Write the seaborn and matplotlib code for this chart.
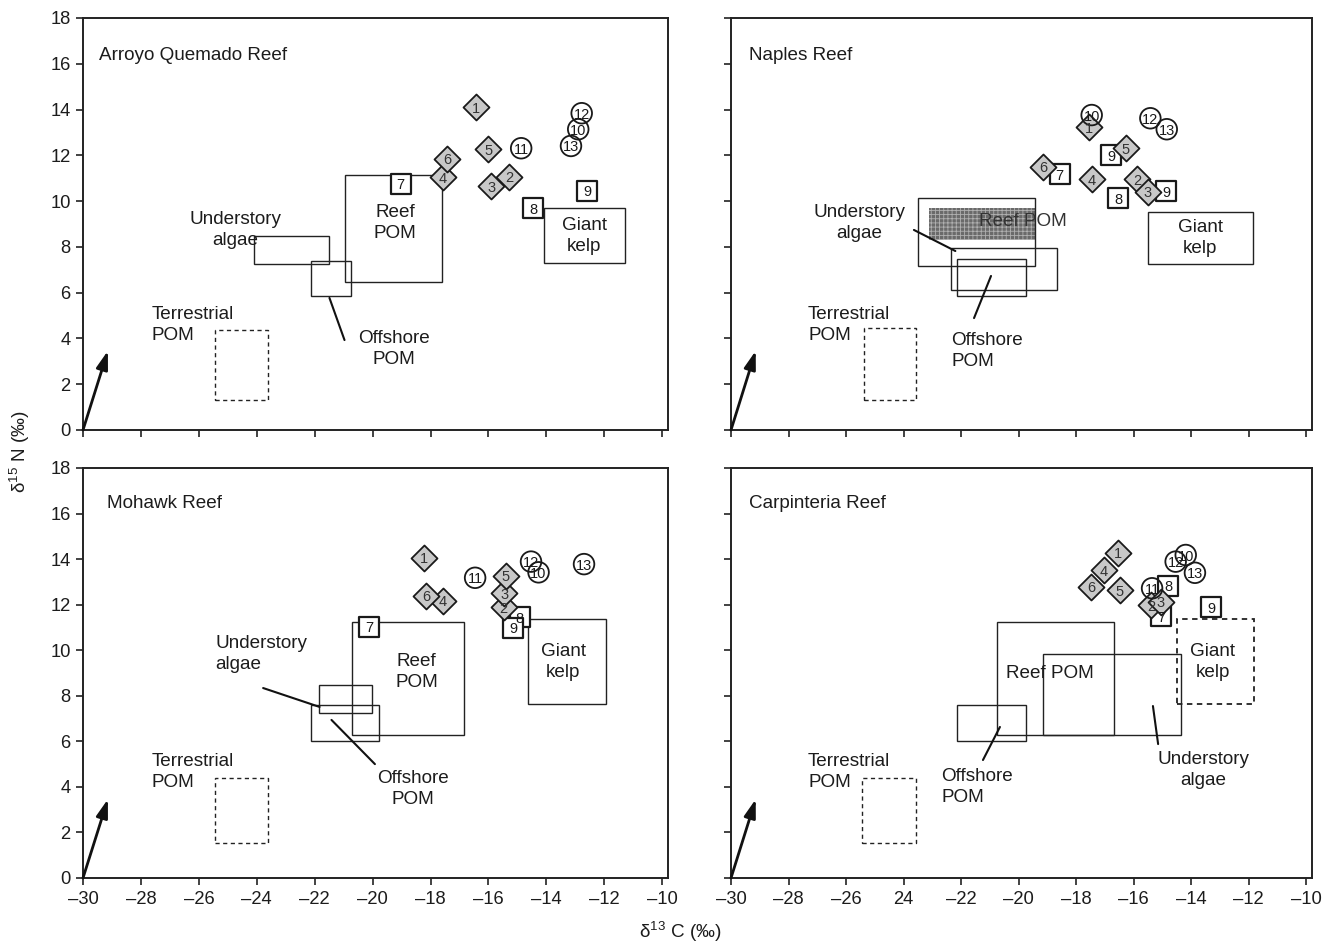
import matplotlib
matplotlib.use("Agg")
import matplotlib.pyplot as plt
from matplotlib.patches import Rectangle
import seaborn as sns
import pandas as pd

sns.set_style("ticks")
plt.rcParams["font.family"] = ["Liberation Sans", "DejaVu Sans"]
plt.rcParams["mathtext.fontset"] = "custom"
plt.rcParams["mathtext.rm"] = "Liberation Sans"
plt.rcParams["hatch.linewidth"] = 0.6

# ---------------- consumer isotope values (d13C, d15N) per reef ----------------
# Diamonds: taxa 1-6, circles: 10-13, squares: 7-9
aq_diamond_id = ["1", "2", "3", "4", "5", "6"]
aq_diamond_c = [-16.43, -15.29, -15.91, -17.57, -16.0, -17.43]
aq_diamond_n = [14.1, 11.07, 10.66, 11.04, 12.26, 11.84]
aq_circle_id = ["10", "11", "12", "13"]
aq_circle_c = [-12.9, -14.87, -12.78, -13.15]
aq_circle_n = [13.14, 12.31, 13.84, 12.41]
aq_square_id = ["7", "8", "9"]
aq_square_c = [-19.03, -14.46, -12.58]
aq_square_n = [10.75, 9.69, 10.46]

na_diamond_id = ["1", "2", "3", "4", "5", "6"]
na_diamond_c = [-17.57, -15.89, -15.51, -17.46, -16.28, -19.15]
na_diamond_n = [13.22, 10.95, 10.41, 10.95, 12.31, 11.5]
na_circle_id = ["10", "12", "13"]
na_circle_c = [-17.46, -15.42, -14.85]
na_circle_n = [13.76, 13.62, 13.14]
na_square_id = ["7", "8", "9", "9"]
na_square_c = [-18.57, -16.54, -16.79, -14.86]
na_square_n = [11.18, 10.12, 12.01, 10.44]

mo_diamond_id = ["1", "2", "3", "4", "5", "6"]
mo_diamond_c = [-18.22, -15.48, -15.46, -17.57, -15.4, -18.16]
mo_diamond_n = [14.06, 11.88, 12.5, 12.17, 13.27, 12.39]
mo_circle_id = ["10", "11", "12", "13"]
mo_circle_c = [-14.27, -16.46, -14.53, -12.7]
mo_circle_n = [13.42, 13.18, 13.89, 13.78]
mo_square_id = ["7", "8", "9"]
mo_square_c = [-20.12, -14.92, -15.14]
mo_square_n = [11.02, 11.44, 10.99]

ca_diamond_id = ["1", "2", "3", "4", "5", "6"]
ca_diamond_c = [-16.56, -15.4, -15.05, -17.03, -16.48, -17.49]
ca_diamond_n = [14.28, 11.98, 12.13, 13.52, 12.64, 12.79]
ca_circle_id = ["10", "11", "12", "13"]
ca_circle_c = [-14.19, -15.36, -14.54, -13.87]
ca_circle_n = [14.18, 12.72, 13.89, 13.4]
ca_square_id = ["7", "8", "9"]
ca_square_c = [-15.05, -14.79, -13.31]
ca_square_n = [11.5, 12.82, 11.88]

# ---------------- source ranges: (c_min, c_max, n_min, n_max) ----------------
aq_kelp = (-14.09, -11.28, 7.28, 9.71)
aq_reef_pom = (-20.97, -17.59, 6.47, 11.14)
aq_understory = (-24.09, -21.52, 7.25, 8.48)
aq_offshore = (-22.14, -20.74, 5.85, 7.38)
aq_terrestrial = (-25.45, -23.61, 1.31, 4.37)

na_kelp = (-15.5, -11.86, 7.25, 9.52)
na_reef_pom = (-23.49, -19.44, 7.16, 10.15)
na_reef_pom_core = (-23.13, -19.44, 8.3, 9.68)
na_understory = (-22.36, -18.68, 6.12, 7.94)
na_offshore = (-22.13, -19.75, 5.85, 7.46)
na_terrestrial = (-25.36, -23.57, 1.31, 4.46)

mo_kelp = (-14.63, -11.95, 7.64, 11.37)
mo_reef_pom = (-20.7, -16.84, 6.28, 11.24)
mo_understory = (-21.86, -20.02, 7.24, 8.47)
mo_offshore = (-22.14, -19.78, 6.01, 7.59)
mo_terrestrial = (-25.45, -23.61, 1.54, 4.39)

ca_kelp = (-14.48, -11.81, 7.64, 11.37)
ca_reef_pom = (-20.76, -16.67, 6.28, 11.24)
ca_understory = (-19.14, -14.36, 6.28, 9.83)
ca_offshore = (-22.13, -19.76, 6.01, 7.59)
ca_terrestrial = (-25.46, -23.57, 1.54, 4.39)

x_ticks = list(range(-30, -9, 2))
y_ticks = list(range(0, 19, 2))
x_ticklabels_left = ["\u201330", "\u201328", "\u201326", "\u201324", "\u201322", "\u201320",
                     "\u201318", "\u201316", "\u201314", "\u201312", "\u201310"]
x_ticklabels_right = ["\u201330", "\u201328", "\u201326", "24", "\u201322", "\u201320",
                      "\u201318", "\u201316", "\u201314", "\u201312", "\u201310"]

FS = 13.6
NUM_FS = 10.5
TXT = "#1c1c1c"


def points(ax, ids, cs, ns, kind):
    df = pd.DataFrame({"c": cs, "n": ns})
    if kind == "diamond":
        sns.scatterplot(data=df, x="c", y="n", marker="D", s=175, color="#c8c8c8",
                        edgecolor="#1a1a1a", linewidth=1.3, ax=ax, zorder=4)
        tc = "#333333"
    elif kind == "circle":
        sns.scatterplot(data=df, x="c", y="n", marker="o", s=220, color="black",
                        facecolor="none", edgecolor="#1a1a1a", linewidth=1.3, ax=ax, zorder=5)
        tc = "#1a1a1a"
    else:
        sns.scatterplot(data=df, x="c", y="n", marker="s", s=215, color="white",
                        edgecolor="#1a1a1a", linewidth=1.6, ax=ax, zorder=3)
        tc = "#1a1a1a"
    for i, c, n in zip(ids, cs, ns):
        ax.text(c, n, i, ha="center", va="center_baseline", fontsize=NUM_FS,
                color=tc, zorder=6)


def box(ax, r, dashed=False, lw=1.0):
    ax.add_patch(Rectangle((r[0], r[2]), r[1] - r[0], r[3] - r[2], fill=False,
                           edgecolor="#222222", linewidth=lw,
                           linestyle=(0, (3, 2.5)) if dashed else "-", zorder=2))


def label(ax, x, y, s, ha="center", **kw):
    ax.text(x, y, s, fontsize=FS, ha=ha, va="center", linespacing=1.25,
            color=kw.pop("color", TXT), **kw)


def leader(ax, p0, p1):
    ax.plot([p0[0], p1[0]], [p0[1], p1[1]], color="#111111", lw=1.5, zorder=2)


def frame(ax, xlabels, ylabels):
    ax.set_xlim(-30, -9.8)
    ax.set_ylim(0, 18)
    ax.set_xticks(x_ticks)
    ax.set_yticks(y_ticks)
    ax.set_xlabel("")
    ax.set_ylabel("")
    if xlabels is None:
        ax.set_xticklabels([])
    else:
        ax.set_xticklabels(xlabels)
    if not ylabels:
        ax.set_yticklabels([])
    ax.tick_params(direction="out", length=5, width=1.2, labelsize=13.2, pad=4,
                   color="#222222", labelcolor=TXT)
    for s in ax.spines.values():
        s.set_visible(True)
        s.set_linewidth(1.4)
        s.set_color("#222222")
    ax.annotate("", xy=(-29.14, 3.46), xytext=(-30, 0),
                arrowprops=dict(arrowstyle="-|>,head_length=1.1,head_width=0.35",
                                color="#111111", lw=2.0, shrinkA=0, shrinkB=0),
                zorder=3)


fig = plt.figure(figsize=(13.22, 9.48), dpi=100)
W, H = 1322, 948
ax_aq = fig.add_axes([83 / W, 1 - 430 / H, 585 / W, 412 / H])
ax_na = fig.add_axes([731 / W, 1 - 430 / H, 581 / W, 412 / H])
ax_mo = fig.add_axes([83 / W, 1 - 878 / H, 585 / W, 410 / H])
ax_ca = fig.add_axes([731 / W, 1 - 878 / H, 581 / W, 410 / H])

# ---- Arroyo Quemado Reef ----
ax = ax_aq
for r in (aq_kelp, aq_reef_pom, aq_understory, aq_offshore):
    box(ax, r)
box(ax, aq_terrestrial, dashed=True)
points(ax, aq_square_id, aq_square_c, aq_square_n, "square")
points(ax, aq_diamond_id, aq_diamond_c, aq_diamond_n, "diamond")
points(ax, aq_circle_id, aq_circle_c, aq_circle_n, "circle")
label(ax, -29.45, 16.38, "Arroyo Quemado Reef", ha="left")
label(ax, -24.74, 8.74, "Understory\nalgae")
label(ax, -19.23, 9.04, "Reef\nPOM")
label(ax, -19.26, 3.54, "Offshore\nPOM")
label(ax, -27.64, 4.59, "Terrestrial\nPOM", ha="left")
label(ax, -12.7, 8.48, "Giant\nkelp")
leader(ax, (-21.49, 5.77), (-20.97, 3.93))
frame(ax, None, True)

# ---- Naples Reef ----
ax = ax_na
ax.add_patch(Rectangle((na_reef_pom_core[0], na_reef_pom_core[2]),
                       na_reef_pom_core[1] - na_reef_pom_core[0],
                       na_reef_pom_core[3] - na_reef_pom_core[2],
                       facecolor="#6a6a6a", edgecolor="#b0b0b0", hatch="++++",
                       linewidth=0, zorder=1))
for r in (na_kelp, na_reef_pom, na_understory, na_offshore):
    box(ax, r)
box(ax, na_terrestrial, dashed=True)
points(ax, na_square_id, na_square_c, na_square_n, "square")
points(ax, na_diamond_id, na_diamond_c, na_diamond_n, "diamond")
points(ax, na_circle_id, na_circle_c, na_circle_n, "circle")
label(ax, -29.38, 16.38, "Naples Reef", ha="left")
label(ax, -25.53, 9.04, "Understory\nalgae")
label(ax, -19.86, 9.09, "Reef POM", color="#333333", zorder=3)
label(ax, -22.34, 3.45, "Offshore\nPOM", ha="left")
label(ax, -27.32, 4.59, "Terrestrial\nPOM", ha="left")
label(ax, -13.68, 8.39, "Giant\nkelp")
leader(ax, (-23.64, 8.74), (-22.2, 7.82))
leader(ax, (-20.96, 6.73), (-21.55, 4.89))
frame(ax, None, False)

# ---- Mohawk Reef ----
ax = ax_mo
for r in (mo_kelp, mo_reef_pom, mo_understory, mo_offshore):
    box(ax, r)
box(ax, mo_terrestrial, dashed=True)
points(ax, mo_diamond_id, mo_diamond_c, mo_diamond_n, "diamond")
points(ax, mo_square_id, mo_square_c, mo_square_n, "square")
points(ax, mo_circle_id, mo_circle_c, mo_circle_n, "circle")
label(ax, -29.18, 16.46, "Mohawk Reef", ha="left")
label(ax, -25.42, 9.83, "Understory\nalgae", ha="left")
label(ax, -18.48, 9.04, "Reef\nPOM")
label(ax, -13.42, 9.48, "Giant\nkelp")
label(ax, -18.62, 3.91, "Offshore\nPOM")
label(ax, -27.64, 4.65, "Terrestrial\nPOM", ha="left")
leader(ax, (-23.78, 8.34), (-21.83, 7.51))
leader(ax, (-21.42, 6.94), (-19.92, 5.0))
frame(ax, x_ticklabels_left, True)

# ---- Carpinteria Reef ----
ax = ax_ca
for r in (ca_reef_pom, ca_understory, ca_offshore):
    box(ax, r)
box(ax, ca_kelp, dashed=True, lw=1.3)
box(ax, ca_terrestrial, dashed=True)
points(ax, ca_square_id, ca_square_c, ca_square_n, "square")
points(ax, ca_diamond_id, ca_diamond_c, ca_diamond_n, "diamond")
points(ax, ca_circle_id, ca_circle_c, ca_circle_n, "circle")
label(ax, -29.38, 16.46, "Carpinteria Reef", ha="left")
label(ax, -18.9, 8.96, "Reef POM")
label(ax, -13.57, 4.74, "Understory\nalgae")
label(ax, -22.68, 4.0, "Offshore\nPOM", ha="left")
label(ax, -13.26, 9.48, "Giant\nkelp")
label(ax, -27.32, 4.65, "Terrestrial\nPOM", ha="left")
leader(ax, (-15.33, 7.55), (-15.15, 5.88))
leader(ax, (-20.65, 6.63), (-21.24, 5.18))
frame(ax, x_ticklabels_right, False)

fig.text(20 / W, 1 - 452 / H, "\u03b4$^{15}$ N (\u2030)", rotation=90, fontsize=13.6,
         ha="center", va="center", color=TXT)
fig.text(680 / W, 1 - 932 / H, "\u03b4$^{13}$ C (\u2030)", fontsize=13.6,
         ha="center", va="center", color=TXT)

fig.savefig("out.png", dpi=100, facecolor="white")
